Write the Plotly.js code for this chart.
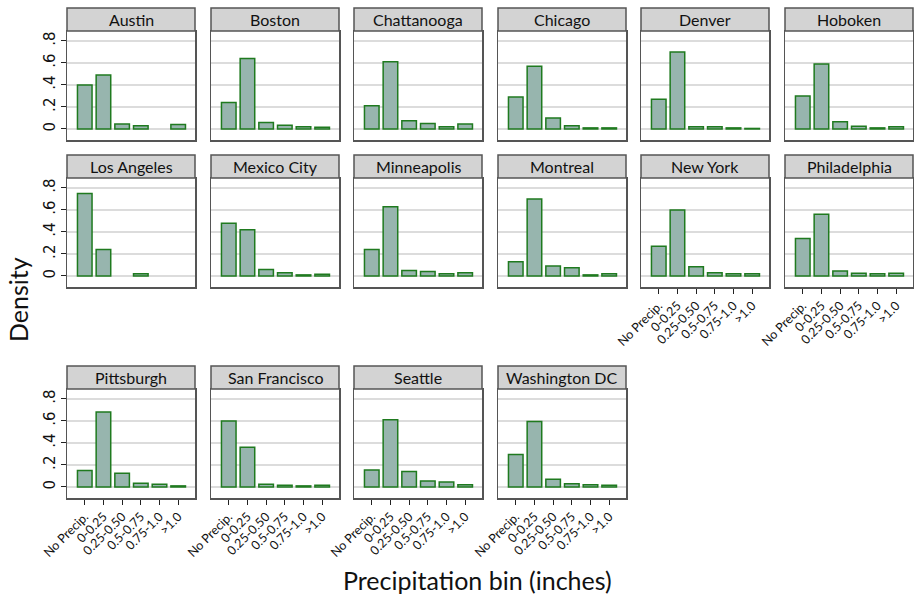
<!DOCTYPE html>
<html>
<head>
<meta charset="utf-8">
<script src="https://cdn.plot.ly/plotly-3.0.1.min.js"></script>
<style>body{margin:0;background:#fff}#chart{width:914px;height:597px}</style>
</head>
<body>
<div id="chart"></div>
<script>
// Precipitation bin densities per city (null = no observations in that bin)
const bins = ["No Precip.", "0-0.25", "0.25-0.50", "0.5-0.75", "0.75-1.0", ">1.0"];
const cities = ["Austin", "Boston", "Chattanooga", "Chicago", "Denver", "Hoboken",
    "Los Angeles", "Mexico City", "Minneapolis", "Montreal", "New York", "Philadelphia",
    "Pittsburgh", "San Francisco", "Seattle", "Washington DC"];
const austin = [0.40, 0.49, 0.045, 0.03, null, 0.04];
const boston = [0.24, 0.64, 0.06, 0.035, 0.02, 0.015];
const chattanooga = [0.21, 0.61, 0.075, 0.05, 0.02, 0.045];
const chicago = [0.29, 0.57, 0.10, 0.03, 0.01, 0.01];
const denver = [0.27, 0.70, 0.02, 0.02, 0.01, 0.005];
const hoboken = [0.30, 0.59, 0.065, 0.025, 0.01, 0.02];
const losAngeles = [0.75, 0.24, null, 0.02, null, null];
const mexicoCity = [0.48, 0.42, 0.06, 0.03, 0.01, 0.015];
const minneapolis = [0.24, 0.63, 0.05, 0.04, 0.02, 0.03];
const montreal = [0.13, 0.70, 0.09, 0.075, 0.01, 0.02];
const newYork = [0.27, 0.60, 0.085, 0.03, 0.02, 0.02];
const philadelphia = [0.34, 0.56, 0.045, 0.025, 0.02, 0.025];
const pittsburgh = [0.15, 0.68, 0.125, 0.035, 0.025, 0.01];
const sanFrancisco = [0.60, 0.36, 0.025, 0.015, 0.01, 0.015];
const seattle = [0.155, 0.61, 0.14, 0.055, 0.045, 0.02];
const washingtonDC = [0.295, 0.595, 0.07, 0.03, 0.02, 0.015];
const values = [austin, boston, chattanooga, chicago, denver, hoboken,
    losAngeles, mexicoCity, minneapolis, montreal, newYork, philadelphia,
    pittsburgh, sanFrancisco, seattle, washingtonDC];
const yTickVals = [0, 0.2, 0.4, 0.6, 0.8];
const yTickText = ["0", ".2", ".4", ".6", ".8"];

const W = 914, H = 597;
const colLeft = [67, 211, 354, 498, 641, 785];
const panelW = 128;
const rowTop = [31, 178, 389];   // plot area tops (strip sits above)
const panelH = 109;
const stripH = 23;

const traces = [];
const layout = {
    width: W, height: H,
    margin: { l: 0, r: 0, t: 0, b: 0 },
    paper_bgcolor: "#fff", plot_bgcolor: "#fff",
    font: { family: "Lato, 'Open Sans', sans-serif", color: "#111" },
    showlegend: false,
    shapes: [], annotations: []
};

cities.forEach((city, i) => {
    const row = Math.floor(i / 6), col = i % 6;
    const n = i + 1;
    const xa = "x" + n, ya = "y" + n;
    const showX = row === 2 || (row === 1 && col >= 4);
    const x0 = colLeft[col], y0 = rowTop[row];
    traces.push({
        type: "bar", x: bins, y: values[i], xaxis: xa, yaxis: ya,
        width: 0.78,
        marker: { color: "#97b5ae", line: { color: "#1f7a1f", width: 1.5 } },
        hoverinfo: "x+y"
    });
    layout["xaxis" + n] = {
        domain: [x0 / W, (x0 + panelW) / W], anchor: ya,
        range: [-0.95, 5.9], type: "category",
        showline: true, linecolor: "#555", linewidth: 1.5, mirror: true,
        showgrid: false, zeroline: false,
        ticks: showX ? "outside" : "", ticklen: 5, tickcolor: "#222",
        showticklabels: showX, tickangle: -45,
        tickfont: { size: 12.5, color: "#111" }
    };
    layout["yaxis" + n] = {
        domain: [1 - (y0 + panelH) / H, 1 - y0 / H], anchor: xa,
        range: [-0.1, 0.89],
        showline: true, linecolor: "#555", linewidth: 1.5, mirror: true,
        showgrid: true, gridcolor: "#dcdcdc", gridwidth: 2, zeroline: false,
        tickvals: yTickVals, ticktext: yTickText,
        ticks: col === 0 ? "outside" : "", ticklen: 5, tickcolor: "#222",
        showticklabels: col === 0, tickangle: -90,
        tickfont: { size: 15, family: "'DejaVu Sans', sans-serif", color: "#111" }
    };
    layout.shapes.push({
        type: "rect", xref: "paper", yref: "paper",
        x0: x0 / W, x1: (x0 + panelW) / W,
        y0: 1 - y0 / H, y1: 1 - (y0 - stripH) / H,
        fillcolor: "#d3d3d3", line: { color: "#555", width: 1.5 }
    });
    layout.annotations.push({
        xref: "paper", yref: "paper",
        x: (x0 + panelW / 2) / W, y: 1 - (y0 - stripH / 2) / H,
        text: city, showarrow: false, xanchor: "center", yanchor: "middle",
        font: { size: 16, color: "#111" }
    });
});

layout.annotations.push({
    xref: "paper", yref: "paper", x: 18 / W, y: 1 - 300 / H,
    text: "Density", showarrow: false, textangle: -90,
    xanchor: "center", yanchor: "middle", font: { size: 25, color: "#111" }
});
layout.annotations.push({
    xref: "paper", yref: "paper", x: 477 / W, y: 1 - 580 / H,
    text: "Precipitation bin (inches)", showarrow: false,
    xanchor: "center", yanchor: "middle", font: { size: 25, color: "#111" }
});

Plotly.newPlot("chart", traces, layout, { displayModeBar: false, staticPlot: true });
</script>
</body>
</html>
